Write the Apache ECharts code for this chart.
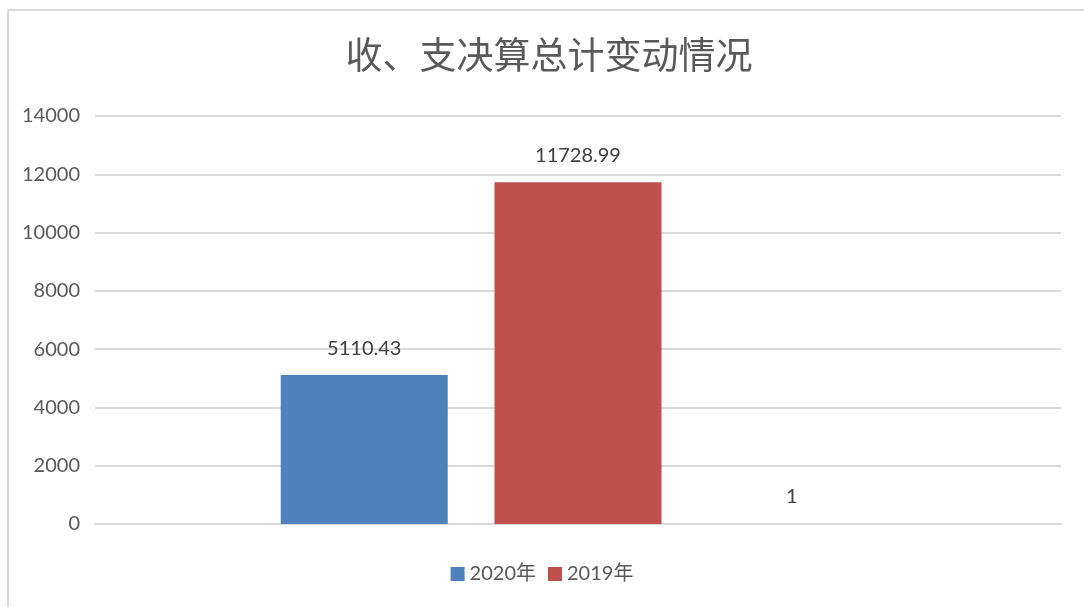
<!DOCTYPE html>
<html>
<head>
<meta charset="utf-8">
<script src="https://cdn.jsdelivr.net/npm/echarts@6/dist/echarts.min.js"></script>
<style>
html, body { margin: 0; padding: 0; background: #fff; }
#main { width: 1084px; height: 607px; }
</style>
</head>
<body>
<div id="main"></div>
<script>
// 数据
var categories = [''];
var seriesNames = ['2020年', '2019年', '系列3'];
var values2020 = [5110.43];
var values2019 = [11728.99];
var valuesOther = [1];
var yTicks = [0, 2000, 4000, 6000, 8000, 10000, 12000, 14000];

var numFont = 'Lato, "Noto Sans CJK SC", sans-serif';
var myChart = echarts.init(document.getElementById('main'), null, {renderer: 'canvas'});

var labelCfg = {
    show: true,
    position: 'top',
    distance: 17,
    color: '#404040',
    fontSize: 20,
    fontFamily: numFont
};

var option = {
    backgroundColor: '#fff',
    animation: false,
    graphic: [
        {
            type: 'rect',
            shape: {x: 8, y: 10, width: 1090, height: 610},
            style: {fill: 'none', stroke: '#d9d9d9', lineWidth: 2},
            silent: true
        }
    ],
    title: {
        text: '收、支决算总计变动情况',
        left: 544,
        textAlign: 'center',
        top: 31,
        textStyle: {
            color: '#595959',
            fontSize: 37,
            fontWeight: 'normal',
            fontFamily: '"Noto Sans CJK SC", sans-serif'
        }
    },
    legend: {
        data: [seriesNames[0], seriesNames[1]],
        bottom: 18,
        left: 'center',
        itemWidth: 14,
        itemHeight: 14,
        itemGap: 12,
        icon: 'rect',
        textStyle: {
            color: '#595959',
            fontSize: 20,
            fontFamily: numFont
        }
    },
    grid: {
        left: 95,
        right: 23,
        top: 116,
        bottom: 83,
        containLabel: false
    },
    xAxis: [
        {
            type: 'category',
            data: categories,
            axisLine: {show: true, lineStyle: {color: '#d9d9d9', width: 2}},
            axisTick: {show: false},
            axisLabel: {show: false}
        }
    ],
    yAxis: [
        {
            type: 'value',
            min: yTicks[0],
            max: yTicks[yTicks.length - 1],
            interval: 2000,
            axisLine: {show: false},
            axisTick: {show: false},
            axisLabel: {
                margin: 15,
                color: '#595959',
                fontSize: 20,
                fontFamily: numFont,
                formatter: function (v) { return String(v); }
            },
            splitLine: {lineStyle: {color: '#d9d9d9', width: 2}}
        }
    ],
    series: [
        {
            name: seriesNames[0],
            type: 'bar',
            data: values2020,
            barWidth: 167,
            barGap: '28%',
            itemStyle: {color: '#4f81bd'},
            label: labelCfg
        },
        {
            name: seriesNames[1],
            type: 'bar',
            data: values2019,
            barWidth: 167,
            barGap: '28%',
            itemStyle: {color: '#c0504d'},
            label: labelCfg
        },
        {
            name: seriesNames[2],
            type: 'bar',
            data: valuesOther,
            barWidth: 167,
            barGap: '28%',
            itemStyle: {color: '#9bbb59'},
            label: labelCfg
        }
    ]
};

myChart.setOption(option);
</script>
</body>
</html>
